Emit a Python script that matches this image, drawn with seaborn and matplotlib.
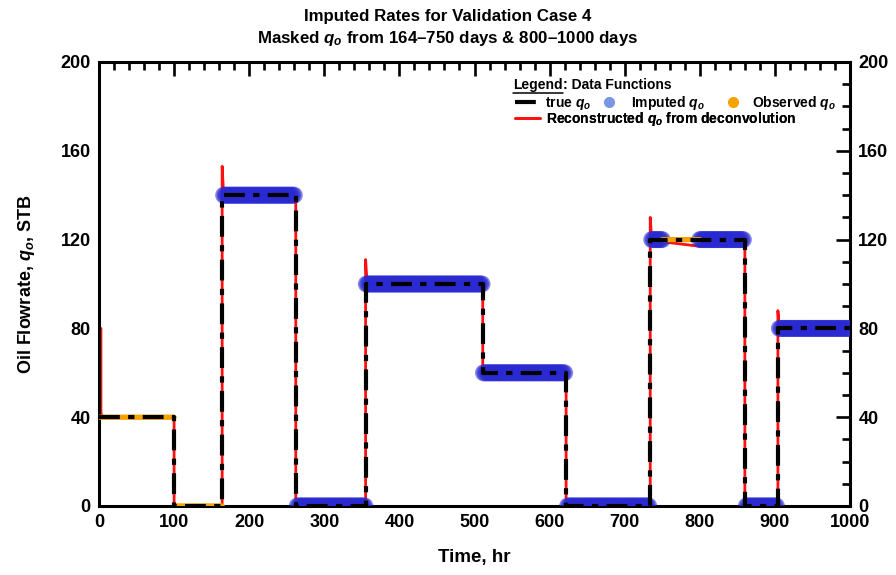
import numpy as np
import pandas as pd
import matplotlib
matplotlib.use("Agg")
import matplotlib.pyplot as plt
from matplotlib.lines import Line2D
from matplotlib.ticker import MultipleLocator
import seaborn as sns

# ---- data ----
step_times = [0, 100, 164, 262, 355, 511, 622, 734, 860, 904, 1000]
step_rates = [40, 0, 140, 0, 100, 60, 0, 120, 0, 80]

observed_ranges = [(0, 164), (750, 800)]
masked_ranges = [(164, 750), (800, 1000)]

recon_t = [2.6, 2.6, 4.5, 100, 100, 164, 164, 165.5, 168, 200, 230, 262, 262, 300, 320,
           335, 348, 355, 355, 356.5, 359, 400, 425, 450, 480, 511, 511, 622, 622,
           734, 734, 735.5, 738, 750, 775, 800, 815, 860, 860, 904, 904, 905.5, 908, 1000]
recon_q = [80, 42, 40, 40, 0, 0, 153, 143, 140, 141, 139, 140, 0, 0.5, 2.5,
           3, 2, 0, 111, 103, 100, 99.5, 98, 98.5, 100, 100, 60, 60, 0,
           0, 130, 122, 120, 119, 118, 117, 119, 120, 0, 0, 88, 82, 80, 80]

xticks = [0, 100, 200, 300, 400, 500, 600, 700, 800, 900, 1000]
yticks = [0, 40, 80, 120, 160, 200]

# ---- build tables ----
def rate_at(t):
    idx = np.searchsorted(step_times, t, side="right") - 1
    idx = np.clip(idx, 0, len(step_rates) - 1)
    return np.array(step_rates)[idx]

true_t, true_q = [], []
for i, r in enumerate(step_rates):
    true_t += [step_times[i], step_times[i + 1]]
    true_q += [r, r]
true_df = pd.DataFrame({"t": true_t, "q": true_q})

obs_t = np.concatenate([np.arange(a, b + 0.1, 2.0) for a, b in observed_ranges])
obs_df = pd.DataFrame({"t": obs_t, "q": rate_at(obs_t - 1e-9)})
imp_t = np.concatenate([np.arange(a, b + 0.1, 2.0) for a, b in masked_ranges])
imp_t = imp_t[~np.isin(imp_t, step_times[1:-1])]
imp_df = pd.DataFrame({"t": imp_t, "q": rate_at(imp_t)})
rec_df = pd.DataFrame({"t": recon_t, "q": recon_q})

# ---- style ----
sns.set_theme(style="white", rc={"text.color": "black", "axes.labelcolor": "black",
                                 "xtick.color": "black", "ytick.color": "black",
                                 "axes.edgecolor": "black"})
plt.rcParams["font.family"] = ["Liberation Sans", "DejaVu Sans"]
plt.rcParams["font.weight"] = "bold"
plt.rcParams["mathtext.fontset"] = "custom"
plt.rcParams["mathtext.it"] = "Liberation Sans:bold:italic"
plt.rcParams["mathtext.rm"] = "Liberation Sans:bold"
plt.rcParams["mathtext.bf"] = "Liberation Sans:bold"

fig = plt.figure(figsize=(8.96, 5.75), dpi=100)
ax = fig.add_axes([99 / 896, 1 - 506 / 575, (850 - 99) / 896, (506 - 62) / 575])

sns.lineplot(data=rec_df, x="t", y="q", sort=False, estimator=None, color="#ff1010",
             lw=2, ax=ax, zorder=2)
sns.scatterplot(data=imp_df, x="t", y="q", color="#2a2ad2", alpha=0.55, s=150,
                edgecolor="none", ax=ax, zorder=3)
sns.scatterplot(data=obs_df, x="t", y="q", color="#f5a300", s=14, edgecolor="none",
                ax=ax, zorder=4)
sns.lineplot(data=true_df, x="t", y="q", sort=False, estimator=None, color="black",
             lw=3, ax=ax, zorder=5)
ax.lines[-1].set_dashes([5, 2, 1.5, 2])

ax.set_xlim(0, 1000)
ax.set_ylim(0, 200)
ax.set_xticks(xticks)
ax.set_yticks(yticks)
ax.xaxis.set_minor_locator(MultipleLocator(20))
ax.yaxis.set_minor_locator(MultipleLocator(10))
ax.tick_params(which="both", direction="in", top=True, right=True, labelright=True,
               width=1.9, colors="black", labelsize=13)
ax.tick_params(axis="y", which="major", pad=6)
ax.tick_params(axis="x", which="major", pad=6)
ax.tick_params(which="major", length=10)
ax.tick_params(which="minor", length=6)
for s in ax.spines.values():
    s.set_linewidth(2.2)
    s.set_color("black")
for lab in ax.get_xticklabels() + ax.get_yticklabels():
    lab.set_fontweight("bold")

ax.set_xlabel("Time, hr", fontsize=13.5, fontweight="bold", labelpad=13)
ax.set_ylabel("Oil Flowrate, $q_o$, STB", fontsize=13, fontweight="bold", labelpad=17)

fig.text(0.5, 1 - 17 / 575, "Imputed Rates for Validation Case 4", ha="center", va="center",
         fontsize=12.2, fontweight="bold")
fig.text(0.5, 1 - 39 / 575, "Masked $q_o$ from 164–750 days & 800–1000 days", ha="center",
         va="center", fontsize=12.2, fontweight="bold")

# ---- legend ----
h_true = Line2D([], [], color="black", lw=3, dashes=[5, 2, 1.5, 2])
h_imp = Line2D([], [], ls="none", marker="o", ms=7, color="#7b96e6")
h_obs = Line2D([], [], ls="none", marker="o", ms=7, color="#f5a300")
h_rec = Line2D([], [], color="#ff1010", lw=2)

def fig2ax(px, py):
    return tuple(ax.transAxes.inverted().transform(
        fig.transFigure.transform((px / 896, 1 - py / 575))))

LFS = 10
entries = [
    (h_true, "true $q_o$", 515, 103, 1.8, 0.35),
    (h_imp, "Imputed $q_o$", 602, 103, 1.0, 1.1),
    (h_obs, "Observed $q_o$", 726, 103, 1.0, 0.85),
    (h_rec, "Reconstructed $q_o$ from deconvolution", 515, 119, 1.8, 0.4),
]
for h, lbl, px, py, hl, hp in entries:
    lg = ax.legend([h], [lbl], loc="center left", bbox_to_anchor=fig2ax(px, py),
                   frameon=False, fontsize=LFS, handlelength=hl, handletextpad=hp,
                   borderaxespad=0, borderpad=0)
    for t in lg.get_texts():
        t.set_fontweight("bold")
    ax.add_artist(lg)

tx, ty = fig2ax(513, 85)
t1 = ax.text(tx, ty, "Legend", transform=ax.transAxes, fontsize=LFS, fontweight="bold",
             va="center", ha="left")
fig.canvas.draw()
bb = t1.get_window_extent().transformed(ax.transAxes.inverted())
ax.text(bb.x1, ty, ": Data Functions", transform=ax.transAxes, fontsize=LFS,
        fontweight="bold", va="center", ha="left")
ax.plot([bb.x0, bb.x1], [bb.y0 - 0.002, bb.y0 - 0.002], transform=ax.transAxes,
        color="black", lw=1.1, clip_on=False)

fig.savefig("out.png", dpi=100)
